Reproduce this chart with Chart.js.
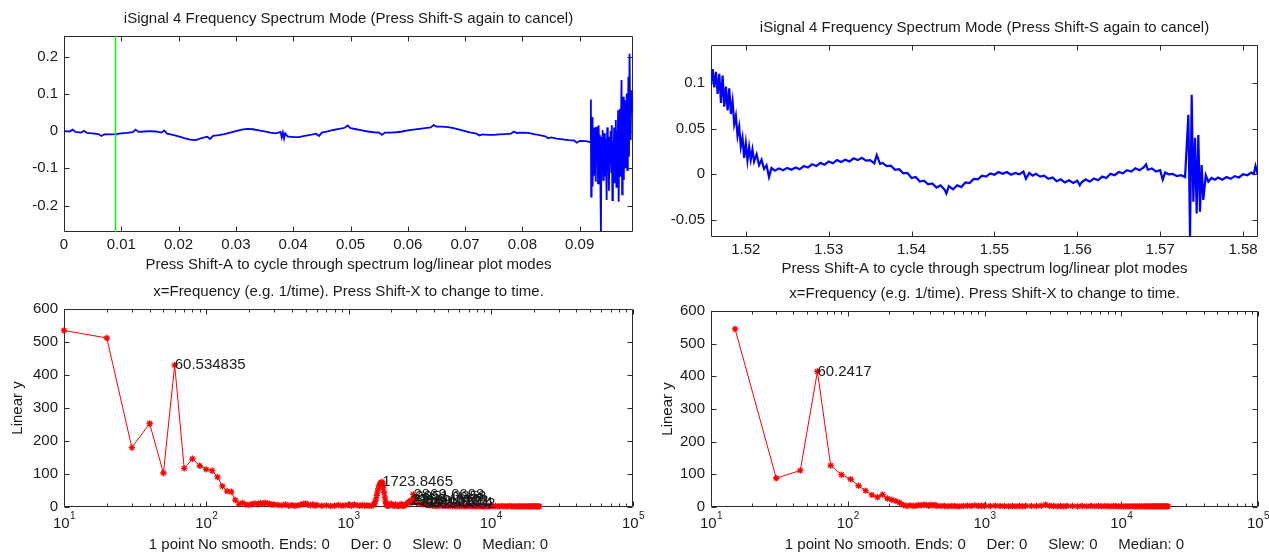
<!DOCTYPE html>
<html>
<head>
<meta charset="utf-8">
<script src="https://cdn.jsdelivr.net/npm/chart.js@4.4.1/dist/chart.umd.min.js"></script>
<style>
  html, body { margin: 0; padding: 0; background: #fff; }
  body { width: 1269px; height: 554px; position: relative; overflow: hidden; }
  canvas { position: absolute; }
</style>
</head>
<body>
<canvas id="timeFull" width="640" height="280" style="left:0;top:0"></canvas>
<canvas id="timeZoom" width="629" height="280" style="left:640px;top:0"></canvas>
<canvas id="specFull" width="660" height="274" style="left:0;top:280px"></canvas>
<canvas id="specZoom" width="629" height="274" style="left:640px;top:280px"></canvas>
<script>
const FONT = "'Liberation Sans', Arial, sans-serif";
const FONT_SIZE = 15;
const TOP_TITLE = 'iSignal 4 Frequency Spectrum Mode (Press Shift-S again to cancel)';
const TOP_XLABEL = 'Press Shift-A to cycle through spectrum log/linear plot modes';
const BOTTOM_TITLE = 'x=Frequency (e.g. 1/time). Press Shift-X to change to time.';
const BOTTOM_XLABEL = '1 point No smooth. Ends: 0     Der: 0     Slew: 0     Median: 0';

// ---- top left: full signal (time, amplitude)
const tlCursor = 0.009;
const tlSignal = [
  [0,0],[0.001,-0.001],[0.0015,0.004],[0.002,-0.002],[0.003,-0.004],[0.0035,0.001],[0.004,-0.005],
  [0.005,-0.006],[0.006,-0.008],[0.0065,-0.013],[0.007,-0.009],[0.008,-0.009],[0.009,-0.008],
  [0.010,-0.006],[0.011,-0.005],[0.012,-0.003],[0.0125,0.004],[0.013,-0.002],[0.014,-0.001],
  [0.015,0.000],[0.016,-0.001],[0.017,-0.004],[0.0175,0.002],[0.018,-0.007],[0.019,-0.010],
  [0.020,-0.014],[0.021,-0.019],[0.022,-0.023],[0.023,-0.024],[0.024,-0.019],[0.025,-0.015],
  [0.0255,-0.021],[0.026,-0.013],[0.027,-0.011],[0.028,-0.008],[0.029,-0.004],[0.030,0.000],
  [0.031,0.004],[0.032,0.006],[0.033,0.005],[0.034,0.002],[0.035,-0.001],[0.036,-0.004],
  [0.037,-0.006],[0.0378,-0.002],[0.038,-0.017],[0.0382,-0.004],[0.0384,-0.020],[0.0386,-0.006],
  [0.039,-0.014],[0.040,-0.016],[0.041,-0.016],[0.042,-0.013],[0.043,-0.010],[0.044,-0.007],
  [0.0445,-0.013],[0.045,-0.004],[0.046,-0.001],[0.047,0.003],[0.048,0.006],[0.049,0.009],
  [0.0495,0.015],[0.050,0.008],[0.051,0.005],[0.052,0.002],[0.053,-0.001],[0.054,-0.003],
  [0.055,-0.004],[0.0555,-0.010],[0.056,-0.004],[0.057,-0.004],[0.058,-0.003],[0.059,-0.001],
  [0.060,0.002],[0.061,0.004],[0.062,0.006],[0.063,0.008],[0.064,0.010],[0.0645,0.016],
  [0.065,0.012],[0.066,0.012],[0.067,0.011],[0.068,0.008],[0.069,0.004],[0.070,0.000],
  [0.071,-0.004],[0.072,-0.007],[0.0725,-0.012],[0.073,-0.009],[0.074,-0.010],[0.075,-0.010],
  [0.076,-0.009],[0.077,-0.008],[0.078,-0.007],[0.0785,-0.001],[0.079,-0.005],[0.080,-0.004],
  [0.081,-0.005],[0.082,-0.008],[0.083,-0.011],[0.084,-0.014],[0.0845,-0.019],[0.085,-0.017],
  [0.086,-0.020],[0.087,-0.022],[0.088,-0.024],[0.089,-0.025],[0.0895,-0.031],[0.090,-0.026],
  [0.091,-0.027],[0.0915,-0.028],
  [0.0919,-0.030],[0.09195,0.085],[0.0920,-0.176],[0.09205,0.020],[0.0921,-0.158],[0.09215,0.038],
  [0.0922,-0.100],[0.09225,0.030],[0.0923,-0.149],[0.0924,-0.010],[0.09245,-0.120],[0.0925,0.010],
  [0.0926,-0.113],[0.0927,-0.024],[0.0928,-0.136],[0.0929,0.012],[0.0930,-0.090],[0.0931,-0.020],
  [0.0932,-0.140],[0.0933,0.016],[0.0934,-0.060],[0.0935,-0.010],[0.0936,-0.120],[0.0937,-0.270],
  [0.0938,-0.015],[0.0939,-0.080],[0.0940,0.003],[0.0941,-0.131],[0.0942,-0.030],[0.0943,-0.006],
  [0.0944,-0.122],[0.0945,-0.020],[0.0946,-0.090],[0.0947,-0.185],[0.0948,0.010],[0.0949,-0.060],
  [0.0950,-0.015],[0.0951,-0.160],[0.0952,-0.020],[0.0953,-0.070],[0.0954,0.000],[0.0955,-0.110],
  [0.0956,0.016],[0.0957,-0.185],[0.0958,-0.030],[0.0959,-0.120],[0.0960,0.010],[0.0961,-0.140],
  [0.0962,-0.040],[0.0963,0.030],[0.0964,-0.150],[0.0965,0.000],[0.0966,-0.080],[0.0967,0.056],
  [0.0968,-0.190],[0.0969,-0.030],[0.0970,0.060],[0.0971,-0.120],[0.0972,0.020],[0.0973,0.137],
  [0.0974,-0.170],[0.0975,0.030],[0.0976,0.092],[0.0977,-0.131],[0.0978,0.040],[0.0979,0.083],
  [0.0980,-0.100],[0.0981,0.050],[0.0982,0.101],[0.0983,-0.105],[0.0984,0.020],[0.0985,0.146],
  [0.0986,-0.069],[0.0987,0.208],[0.0988,0.050],[0.0989,-0.024],[0.0990,0.110],[0.0991,0.047],
  [0.0992,0.090],[0.0993,0.074]
];
const tlXTicks = [0, 0.01, 0.02, 0.03, 0.04, 0.05, 0.06, 0.07, 0.08, 0.09];
const tlXLabels = ['0', '0.01', '0.02', '0.03', '0.04', '0.05', '0.06', '0.07', '0.08', '0.09'];
const tlYTicks = [-0.2, -0.1, 0, 0.1, 0.2];
const tlYLabels = ['-0.2', '-0.1', '0', '0.1', '0.2'];

// ---- top right: zoomed signal segment
const trSignal = [
  [1.5158,0.098],[1.5160,0.115],[1.5162,0.095],[1.5164,0.112],[1.5166,0.088],[1.5168,0.110],
  [1.5170,0.078],[1.5172,0.108],[1.5174,0.074],[1.5176,0.096],[1.5178,0.070],[1.5180,0.094],
  [1.5182,0.066],[1.5184,0.080],[1.5186,0.055],[1.5188,0.064],[1.5190,0.042],[1.5192,0.052],
  [1.5194,0.030],[1.5196,0.040],[1.5198,0.018],[1.5200,0.034],[1.5202,0.015],[1.5204,0.030],
  [1.5206,0.016],[1.5208,0.027],[1.5210,0.014],[1.5213,0.022],[1.5216,0.010],[1.5219,0.016],
  [1.5222,0.006],[1.5225,0.010],[1.5228,-0.003],[1.5231,0.007],
  [1.5235,0.004],[1.5240,0.0065],[1.5245,0.0045],[1.5250,0.007],[1.5255,0.005],[1.5260,0.0075],
  [1.5265,0.0055],[1.5270,0.009],[1.5275,0.0075],[1.5280,0.011],[1.5285,0.009],[1.5290,0.0125],
  [1.5295,0.0105],[1.5300,0.014],[1.5305,0.012],[1.5310,0.0155],[1.5315,0.0135],[1.5320,0.016],
  [1.5325,0.014],[1.5330,0.0175],[1.5335,0.0155],[1.5340,0.018],[1.5345,0.015],[1.5350,0.0155],
  [1.5355,0.012],[1.5358,0.021],[1.5362,0.0115],[1.5365,0.0125],[1.5370,0.009],[1.5375,0.0095],
  [1.5380,0.005],[1.5385,0.0055],[1.5390,0.001],[1.5395,0.0015],[1.5400,-0.004],[1.5405,-0.003],
  [1.5410,-0.008],[1.5415,-0.007],[1.5420,-0.011],[1.5425,-0.010],[1.5430,-0.0145],[1.5435,-0.012],
  [1.5440,-0.017],[1.5442,-0.021],[1.5445,-0.013],[1.5450,-0.0165],[1.5455,-0.012],[1.5460,-0.014],
  [1.5465,-0.009],[1.5470,-0.0095],[1.5475,-0.005],[1.5480,-0.0055],[1.5485,-0.0015],[1.5490,-0.0025],
  [1.5495,0.001],[1.5500,-0.0005],[1.5505,0.0025],[1.5510,0.0005],[1.5515,0.0025],[1.5520,-0.0005],
  [1.5525,0.0015],[1.5530,0.000],[1.5535,0.003],[1.5538,-0.005],[1.5542,0.0015],[1.5546,-0.0015],
  [1.5550,0.0005],[1.5555,-0.0025],[1.5560,-0.0015],[1.5565,-0.005],[1.5570,-0.0035],[1.5575,-0.0075],
  [1.5580,-0.0055],[1.5585,-0.009],[1.5590,-0.0065],[1.5595,-0.0095],[1.5600,-0.007],[1.5603,-0.012],
  [1.5605,-0.009],[1.5610,-0.0055],[1.5615,-0.008],[1.5620,-0.0045],[1.5625,-0.0065],[1.5630,-0.0025],
  [1.5635,-0.004],[1.5640,0.0005],[1.5645,-0.001],[1.5650,0.0025],[1.5655,0.001],[1.5660,0.0045],
  [1.5665,0.003],[1.5670,0.0065],[1.5675,0.0045],[1.5680,0.0075],[1.5683,0.011],[1.5685,0.005],
  [1.5690,0.0065],[1.5695,0.003],[1.5700,0.0045],[1.5703,-0.006],[1.5706,0.002],[1.5710,0.000],
  [1.5715,0.0005],[1.5720,-0.002],[1.5725,-0.001],[1.5730,-0.003],
  [1.5734,0.065],[1.5736,-0.069],[1.5738,0.087],[1.5740,-0.030],[1.5742,0.040],[1.5744,-0.043],
  [1.5746,0.043],[1.5748,-0.041],[1.5750,0.010],[1.5752,-0.028],
  [1.5755,-0.001],[1.5758,-0.008],[1.5762,-0.004],[1.5766,-0.006],[1.5770,-0.0035],[1.5775,-0.006],
  [1.5780,-0.003],[1.5785,-0.005],[1.5790,-0.002],[1.5795,-0.0035],[1.5800,0.000],[1.5805,-0.001],
  [1.5810,0.002],[1.5813,0.0005],[1.5815,0.009],[1.5817,0.002],[1.5818,0.003]
];
const trXTicks = [1.52, 1.53, 1.54, 1.55, 1.56, 1.57, 1.58];
const trXLabels = ['1.52', '1.53', '1.54', '1.55', '1.56', '1.57', '1.58'];
const trYTicks = [-0.05, 0, 0.05, 0.1];
const trYLabels = ['-0.05', '0', '0.05', '0.1'];

// ---- bottom left: spectrum of full signal (Hz, amplitude)
const blSpectrum = [
  [10,535],[20,512],[30,180],[40,253],[50,103],[60,430],[70,117],[80,146],[90,125],[100,114],
  [110,110],[120,91],[130,63],[140,48],[150,46],[160,21],[170,9],[180,12],[190,8],[200,6],
  [210,9],[220,11],[230,8],[240,12],[250,10],[260,13],[270,11],[280,9],[290,7],[300,8],
  [320,6],[340,5],[360,8],[380,4],[400,6],[420,4],[440,5],[460,7],[480,9],[500,11],
  [520,7],[540,5],[560,8],[580,4],[600,6],[650,4],[700,5],[750,3],[800,4],[850,6],
  [900,4],[950,5],[1000,7],[1050,4],[1100,8],[1150,5],[1200,4],[1250,6],[1300,4],[1350,5],
  [1400,4],[1450,4],[1500,6],[1520,10],[1540,16],[1560,24],[1580,35],[1600,46],[1620,55],[1640,63],
  [1660,68],[1680,72],[1700,74],[1724,76],[1740,70],[1760,58],[1780,44],[1800,30],[1820,18],[1840,10],
  [1860,6],[1880,4],[1900,4],[1950,6],[2000,10],[2050,5],[2100,4],[2150,8],[2200,4],[2250,3],
  [2300,5],[2350,9],[2400,4],[2450,3],[2500,6],[2550,8],[2600,12],[2650,15],[2716,18],[2750,13],
  [2790,22],[2820,16],[2860,38],[2900,20],[2950,30],[3000,14],[3050,20],[3100,12],[3150,15],[3200,9],
  [3280,13],[3350,8],[3420,11],[3500,7],[3600,9],[3700,5],[3800,7],[3900,4],[4000,5],[4100,4],
  [4200,3],[4400,4],[4600,3],[4800,4],[5000,3],[5200,3],[5400,3],[5600,3],[5800,2],[6000,3],
  [6200,3],[6400,3],[6600,2],[6800,3],[7000,3],[7200,3],[7400,2],[7600,3],[7800,3],[8000,2],
  [8200,3],[8400,3],[8600,2],[8800,3],[9000,2],[9200,3],[9400,2],[9600,3],[9800,2],[10000,3],
  [10400,2],[10800,3],[11200,2],[11600,2],[12000,3],[12400,2],[12800,2],[13200,2],[13600,3],[14000,2],
  [14400,2],[14800,2],[15200,2],[15600,2],[16000,2],[16400,2],[16800,2],[17200,2],[17600,2],[18000,2],
  [18400,2],[18800,2],[19200,2],[19600,2],[20000,2],[20400,2],[20800,2],[21200,2],[21600,2],[22000,2]
];
const blPeakFreq = [60, 1724, 2716, 2790, 2860, 2950, 3050, 3150, 3280, 3420];
const blPeakAmp = [430, 76, 18, 22, 38, 30, 20, 15, 13, 11];
const blPeakText = ['60.534835', '1723.8465', '2716.4012', '2790.1367', '2869.6698',
  '2951.3358', '3049.7702', '3148.2291', '3281.5574', '3419.0832'];

// ---- bottom right: spectrum of zoomed segment
const brSpectrum = [
  [15,545],[30,88],[45,112],[60,415],[75,127],[90,99],[105,85],[120,65],[135,50],[150,37],
  [165,30],[180,38],[195,26],[210,22],[225,18],[240,13],[255,6],[270,3],[285,5],[300,3],
  [315,4],[330,6],[345,5],[360,7],[375,6],[390,4],[405,7],[420,5],[435,6],[450,3],
  [480,3],[510,3],[540,2],[570,3],[600,3],[630,2],[660,2],[700,3],[750,4],[800,3],
  [850,5],[900,3],[950,4],[1000,3],[1100,3],[1200,4],[1300,3],[1400,3],[1500,2],[1600,3],
  [1700,2],[1800,3],[1900,2],[2000,3],[2200,3],[2400,3],[2600,4],[2800,7],[3000,3],[3200,3],
  [3400,2],[3600,3],[3800,2],[4000,3],[4400,3],[4800,2],[5200,3],[5600,2],[6000,3],[6400,2],
  [6800,3],[7200,2],[7600,3],[8000,2],[8400,2],[8800,3],[9200,2],[9600,2],[10000,2],[10400,2],
  [10800,2],[11200,2],[11600,2],[12000,2],[12400,2],[12800,2],[13200,2],[13600,2],[14000,2],[14400,2],
  [14800,2],[15200,2],[15600,2],[16000,2],[16400,2],[16800,2],[17200,2],[17600,2],[18000,2],[18400,2],
  [18800,2],[19200,2],[19600,2],[20000,2],[20400,2],[20800,2],[21200,2],[21600,2],[22000,2]
];
const brPeakFreq = [60];
const brPeakAmp = [415];
const brPeakText = ['60.2417'];

const specYTicks = [0, 100, 200, 300, 400, 500, 600];
const specYLabels = ['0', '100', '200', '300', '400', '500', '600'];
const logDecades = [10, 100, 1000, 10000, 100000];
const logExponents = ['1', '2', '3', '4', '5'];
const logMinor = [20, 30, 40, 50, 60, 70, 80, 90, 200, 300, 400, 500, 600, 700, 800, 900,
  2000, 3000, 4000, 5000, 6000, 7000, 8000, 9000, 20000, 30000, 40000, 50000, 60000, 70000, 80000, 90000];

Chart.defaults.font.family = FONT;
Chart.defaults.font.size = FONT_SIZE;
Chart.defaults.color = '#1a1a1a';

// box with inward ticks on all sides (under the data), then title, peak labels, 10^n labels
const matlabAxes = {
  id: 'matlabAxes',
  beforeDatasetsDraw(chart) {
    const { ctx, chartArea: a, scales: { x, y } } = chart;
    const L = Math.round(a.left) + 0.5, R = Math.round(a.right) - 0.5;
    const T = Math.round(a.top) + 0.5, B = Math.round(a.bottom) - 0.5;
    ctx.save();
    ctx.strokeStyle = '#2a2a2a';
    ctx.lineWidth = 1;
    ctx.beginPath();
    ctx.rect(L, T, R - L, B - T);
    x.ticks.forEach(t => {
      const px = Math.round(x.getPixelForValue(t.value)) + 0.5;
      const len = t.minor ? 3 : 5;
      ctx.moveTo(px, B); ctx.lineTo(px, B - len);
      ctx.moveTo(px, T); ctx.lineTo(px, T + len);
    });
    y.ticks.forEach(t => {
      const py = Math.round(y.getPixelForValue(t.value)) + 0.5;
      ctx.moveTo(L, py); ctx.lineTo(L + 5, py);
      ctx.moveTo(R, py); ctx.lineTo(R - 5, py);
    });
    ctx.stroke();
    ctx.restore();
  },
  afterDatasetsDraw(chart, args, o) {
    const { ctx, chartArea: a, scales: { x, y } } = chart;
    ctx.save();
    ctx.fillStyle = '#1a1a1a';
    ctx.font = FONT_SIZE + 'px ' + FONT;
    ctx.textAlign = 'center';
    ctx.textBaseline = 'middle';
    ctx.fillText(o.title, (a.left + a.right) / 2, o.titleY);

    if (o.peaks) {
      ctx.textAlign = 'left';
      o.peaks.freq.forEach((f, i) => {
        ctx.fillText(o.peaks.text[i], x.getPixelForValue(f), y.getPixelForValue(o.peaks.amp[i]));
      });
    }

    if (o.logLabels) {
      ctx.textAlign = 'left';
      logDecades.forEach((v, i) => {
        const px = x.getPixelForValue(v);
        ctx.font = FONT_SIZE + 'px ' + FONT;
        const wb = ctx.measureText('10').width;
        ctx.font = '10px ' + FONT;
        const we = ctx.measureText(logExponents[i]).width;
        const start = px - (wb + we) / 2;
        ctx.font = FONT_SIZE + 'px ' + FONT;
        ctx.fillText('10', start, a.bottom + 17);
        ctx.font = '10px ' + FONT;
        ctx.fillText(logExponents[i], start + wb + 0.5, a.bottom + 9);
      });
    }
    ctx.restore();
  }
};
Chart.register(matlabAxes);

function fixedTicks(values, minorValues) {
  return scale => {
    const all = values.map(v => ({ value: v }));
    (minorValues || []).forEach(v => all.push({ value: v, minor: true }));
    all.sort((p, q) => p.value - q.value);
    scale.ticks = all;
  };
}

function axesOptions(f, x, y, deco) {
  return {
    responsive: false,
    animation: false,
    events: [],
    layout: { padding: { left: 0, top: f.top, right: f.w - f.right, bottom: 0 } },
    plugins: { legend: { display: false }, tooltip: { enabled: false }, matlabAxes: deco },
    scales: {
      x: Object.assign({
        grid: { display: false, drawTicks: false },
        border: { display: false },
        afterFit: s => { s.height = f.h - f.bottom; s.paddingLeft = 0; s.paddingRight = 0; }
      }, x),
      y: Object.assign({
        grid: { display: false, drawTicks: false },
        border: { display: false },
        afterFit: s => { s.width = f.left; s.paddingTop = 0; s.paddingBottom = 0; }
      }, y)
    }
  };
}

const toXY = pairs => pairs.map(([x, y]) => ({ x, y }));

// top left
new Chart(document.getElementById('timeFull'), {
  type: 'line',
  data: {
    datasets: [
      { data: [{ x: tlCursor, y: -0.271 }, { x: tlCursor, y: 0.2555 }], borderColor: '#00ff00', borderWidth: 1.4, pointRadius: 0 },
      { data: toXY(tlSignal), borderColor: '#0000ff', borderWidth: 1.8, pointRadius: 0 }
    ]
  },
  options: axesOptions(
    { w: 640, h: 280, left: 64, top: 36, right: 633, bottom: 232 },
    { type: 'linear', min: 0, max: 0.0993, afterBuildTicks: fixedTicks(tlXTicks),
      ticks: { padding: 3.7, maxRotation: 0, autoSkip: false, callback: (v, i) => tlXLabels[i] },
      title: { display: true, text: TOP_XLABEL, padding: { top: 0, bottom: 6.3 } } },
    { type: 'linear', min: -0.271, max: 0.2555, afterBuildTicks: fixedTicks(tlYTicks),
      ticks: { padding: 6, autoSkip: false, callback: (v, i) => tlYLabels[i] } },
    { title: TOP_TITLE, titleY: 19 }
  )
});

// top right
new Chart(document.getElementById('timeZoom'), {
  type: 'line',
  data: {
    datasets: [
      { data: toXY(trSignal), borderColor: '#0000ff', borderWidth: 2.2, pointRadius: 0 }
    ]
  },
  options: axesOptions(
    { w: 629, h: 280, left: 71, top: 44.5, right: 618, bottom: 237 },
    { type: 'linear', min: 1.5158, max: 1.5818, afterBuildTicks: fixedTicks(trXTicks),
      ticks: { padding: 3.7, maxRotation: 0, autoSkip: false, callback: (v, i) => trXLabels[i] },
      title: { display: true, text: TOP_XLABEL, padding: { top: 0, bottom: 2.3 } } },
    { type: 'linear', min: -0.0686, max: 0.142, afterBuildTicks: fixedTicks(trYTicks),
      ticks: { padding: 6, autoSkip: false, callback: (v, i) => trYLabels[i] } },
    { title: TOP_TITLE, titleY: 27.8 }
  )
});

function spectrumDataset(pairs) {
  return {
    data: toXY(pairs),
    borderColor: '#ff0000',
    borderWidth: 1,
    pointStyle: 'star',
    pointRadius: 3.2,
    pointBorderWidth: 1.3,
    pointBorderColor: '#ff0000',
    pointBackgroundColor: '#ff0000',
    clip: false
  };
}

function spectrumOptions(f, yTitlePad, titleY, peaks) {
  return axesOptions(
    f,
    { type: 'logarithmic', min: 10, max: 100000, afterBuildTicks: fixedTicks(logDecades, logMinor),
      ticks: { display: false },
      title: { display: true, text: BOTTOM_XLABEL, padding: { top: 0, bottom: 0 } } },
    { type: 'linear', min: 0, max: 600, afterBuildTicks: fixedTicks(specYTicks),
      ticks: { padding: 6, autoSkip: false, callback: (v, i) => specYLabels[i] },
      title: { display: true, text: 'Linear y', padding: { top: yTitlePad, bottom: 0 } } },
    { title: BOTTOM_TITLE, titleY, peaks, logLabels: true }
  );
}

// bottom left
new Chart(document.getElementById('specFull'), {
  type: 'line',
  data: { datasets: [spectrumDataset(blSpectrum)] },
  options: spectrumOptions({ w: 660, h: 274, left: 64, top: 29, right: 633, bottom: 227 }, 9, 11.7,
    { freq: blPeakFreq, amp: blPeakAmp, text: blPeakText })
});

// bottom right
new Chart(document.getElementById('specZoom'), {
  type: 'line',
  data: { datasets: [spectrumDataset(brSpectrum)] },
  options: spectrumOptions({ w: 629, h: 274, left: 71, top: 31, right: 618, bottom: 227 }, 19, 14.3,
    { freq: brPeakFreq, amp: brPeakAmp, text: brPeakText })
});
</script>
</body>
</html>
